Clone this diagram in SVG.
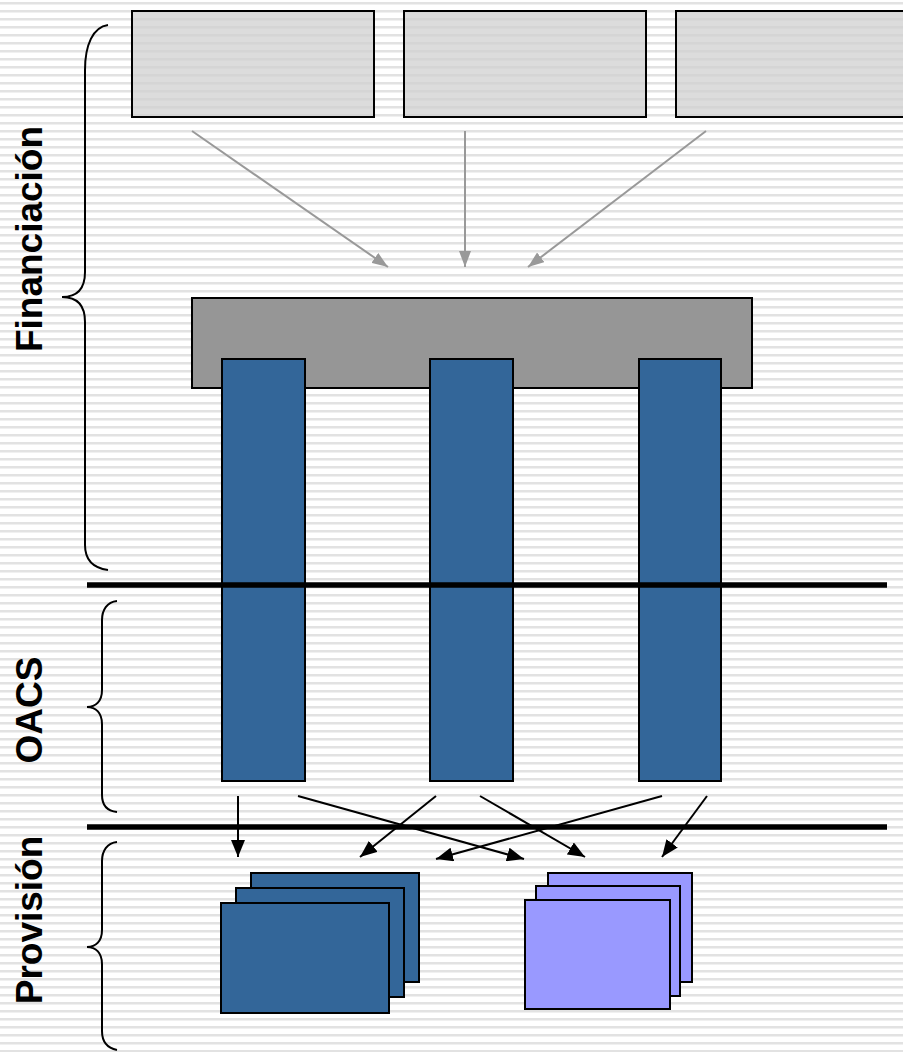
<svg xmlns="http://www.w3.org/2000/svg" width="903" height="1052" viewBox="0 0 903 1052">
<defs>
<pattern id="stripes" patternUnits="userSpaceOnUse" width="8" height="8">
<rect width="8" height="8" fill="#ffffff"/>
<rect y="2" width="8" height="2" fill="#e2e2e2"/>
<rect y="4" width="8" height="1" fill="#f0f0f0"/>
</pattern>
<marker id="ga" viewBox="0 0 16 12" refX="16" refY="6" markerWidth="16" markerHeight="12" markerUnits="userSpaceOnUse" orient="auto">
<path d="M0,0 L16,6 L0,12 z" fill="#999999"/>
</marker>
<marker id="ba" viewBox="0 0 17 14" refX="17" refY="7" markerWidth="17" markerHeight="14" markerUnits="userSpaceOnUse" orient="auto">
<path d="M0,0 L17,7 L0,14 z" fill="#000000"/>
</marker>
</defs>
<style>
.src{fill:#d0d0d0;fill-opacity:0.75;stroke:#000;stroke-width:2}
.bar{fill:#969696;stroke:#000;stroke-width:2}
.pillar{fill:#336699;stroke:#000;stroke-width:2}
.prov1{fill:#336699;stroke:#000;stroke-width:2}
.prov2{fill:#9999ff;stroke:#000;stroke-width:2}
.sep{stroke:#000;stroke-width:5.5}
.brace{fill:none;stroke:#000;stroke-width:2}
.garrow{stroke:#999999;stroke-width:2;fill:none;marker-end:url(#ga)}
.barrow{stroke:#000;stroke-width:2;fill:none;marker-end:url(#ba)}
.label{font-family:"Liberation Sans",Arial,sans-serif;font-weight:bold;font-size:37px;fill:#000;text-anchor:middle}
</style>
<rect width="903" height="1052" fill="url(#stripes)"/>

<g id="source1"><rect class="src" x="132" y="11" width="242" height="106"/></g>
<g id="source2"><rect class="src" x="404" y="11" width="242" height="106"/></g>
<g id="source3"><rect class="src" x="676" y="11" width="230" height="106"/></g>

<g id="pool"><rect class="bar" x="192" y="298" width="560" height="90"/></g>
<g id="pillar1"><rect class="pillar" x="222" y="359" width="83" height="422"/></g>
<g id="pillar2"><rect class="pillar" x="430" y="359" width="83" height="422"/></g>
<g id="pillar3"><rect class="pillar" x="639" y="359" width="82" height="422"/></g>

<g id="separators">
<line class="sep" x1="87" y1="585" x2="887" y2="585"/>
<line class="sep" x1="87" y1="827" x2="887" y2="827"/>
</g>

<g id="providers1">
<rect class="prov1" x="251" y="873" width="168" height="109"/>
<rect class="prov1" x="236" y="888" width="168" height="109"/>
<rect class="prov1" x="221" y="903" width="168" height="110"/>
</g>
<g id="providers2">
<rect class="prov2" x="548" y="873" width="144" height="109"/>
<rect class="prov2" x="536" y="886" width="144" height="110"/>
<rect class="prov2" x="525" y="900" width="145" height="109"/>
</g>

<g id="connectors">
<line class="garrow" x1="192" y1="131" x2="388" y2="267"/>
<line class="garrow" x1="465" y1="131" x2="465" y2="267"/>
<line class="garrow" x1="706" y1="131" x2="528" y2="267"/>
<line class="barrow" x1="238" y1="796" x2="238" y2="857"/>
<line class="barrow" x1="298" y1="796" x2="524" y2="859"/>
<line class="barrow" x1="436" y1="796" x2="360" y2="857"/>
<line class="barrow" x1="480" y1="796" x2="585" y2="857"/>
<line class="barrow" x1="662" y1="796" x2="436" y2="859"/>
<line class="barrow" x1="707" y1="796" x2="662" y2="857"/>
</g>

<g id="braces">
<path class="brace" d="M108,25 C93,27 85,45 85,70 L85,272 C85,290 76,297 62,297 C76,297 85,304 85,322 L85,545 C85,560 93,568 108,570"/>
<path class="brace" d="M117,601 C107,602 102,610 102,620 L102,690 C102,701 96,707 87,707 C96,707 102,713 102,724 L102,795 C102,805 107,811 117,812"/>
<path class="brace" d="M117,842 C107,843 102,851 102,861 L102,930 C102,941 96,947 87,947 C96,947 102,953 102,964 L102,1031 C102,1041 107,1048 117,1050"/>
</g>

<g id="labels">
<text class="label" x="42" y="239" transform="rotate(-90 42 239)">Financiación</text>
<text class="label" x="42" y="710" transform="rotate(-90 42 710)">OACS</text>
<text class="label" x="42" y="920" transform="rotate(-90 42 920)">Provisión</text>
</g>
</svg>
